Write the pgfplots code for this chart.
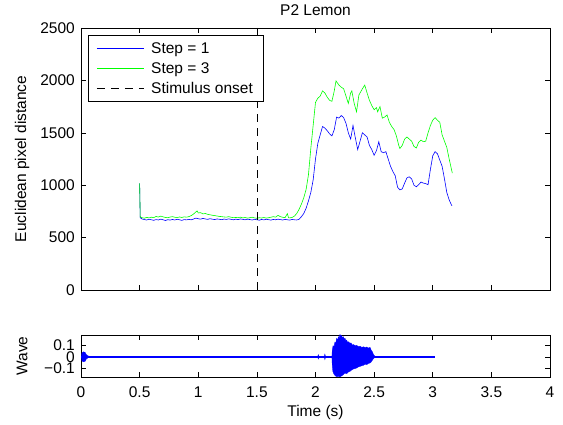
\documentclass[border=0pt]{standalone}
\usepackage{fontspec}
\setmainfont{Liberation Sans}
\usepackage{pgfplots}
\pgfplotsset{compat=1.18}
\pgfplotsset{mystyle/.style={
  scale only axis, width=469pt,
  axis line style={line width=0.6pt},
  tick align=inside, major tick length=5pt,
  tick style={black, line width=0.5pt},
  /pgf/number format/assume math mode=true,
  /pgf/number format/1000 sep={},
  scaled ticks=false,
  ticklabel style={font=\fontsize{15.5}{18}\selectfont},
  label style={font=\fontsize{15.5}{18}\selectfont},
  xmin=0, xmax=4, xtick={0,0.5,...,4},
  yticklabel style={inner sep=0pt, xshift=-6pt},
  ylabel style={at={(rel axis cs:-0.1258,0.5)}, anchor=center},
  clip mode=individual,
}}
\begin{document}
\begin{tikzpicture}[font=\fontsize{15.5}{18}\selectfont]
\useasboundingbox (0,0) rectangle (563pt,425pt);
\begin{axis}[mystyle,
  at={(81pt,135pt)}, anchor=south west, height=262pt,
  ymin=0, ymax=2500, ytick={0,500,...,2500},
  xticklabels={},
  ylabel={Euclidean pixel distance},
  legend style={at={(rel axis cs:0.0156,0.973)}, anchor=north west, draw=black, line width=0.6pt,
    fill=white, font=\fontsize{15.5}{18}\selectfont, cells={anchor=west}, row sep=3.5pt,
    inner xsep=8pt, inner ysep=5pt},
  legend image code/.code={\draw[#1] (0pt,0pt) -- (47pt,0pt); \path (52pt,0pt);},
]
\addplot[blue, line width=0.6pt] coordinates {
(0.500,1018) (0.505,690) (0.52,678) (0.54,672) (0.56,668) (0.58,675) (0.60,670) (0.62,665)
(0.64,672) (0.66,668) (0.68,676) (0.70,670) (0.72,663) (0.74,671) (0.76,667) (0.78,673)
(0.80,668) (0.82,675) (0.84,670) (0.86,664) (0.88,672) (0.90,669) (0.92,674) (0.94,670)
(0.96,677) (0.98,686) (1.00,680) (1.02,676) (1.04,683) (1.06,678) (1.08,674) (1.10,680)
(1.12,676) (1.14,672) (1.16,678) (1.18,675) (1.20,671) (1.22,677) (1.24,673) (1.26,679)
(1.28,674) (1.30,670) (1.32,676) (1.34,672) (1.36,678) (1.38,674) (1.40,670) (1.42,676)
(1.44,672) (1.46,668) (1.48,674) (1.50,670) (1.52,666) (1.54,673) (1.56,669) (1.58,675)
(1.60,671) (1.62,667) (1.64,673) (1.66,670) (1.68,676) (1.70,672) (1.72,668) (1.74,674)
(1.76,670) (1.78,667) (1.80,673) (1.82,670) (1.84,668) (1.86,675) (1.88,700) (1.90,730)
(1.92,780) (1.94,850) (1.96,930) (1.98,1050) (2.00,1250) (2.02,1400) (2.04,1480) (2.06,1560)
(2.08,1545) (2.10,1520) (2.12,1490) (2.14,1470) (2.16,1530) (2.18,1650) (2.20,1640) (2.22,1665)
(2.24,1645) (2.26,1590) (2.28,1500) (2.30,1440) (2.32,1570) (2.34,1450) (2.36,1340) (2.38,1420)
(2.40,1500) (2.42,1480) (2.44,1460) (2.46,1380) (2.48,1340) (2.50,1285) (2.52,1330) (2.54,1415)
(2.56,1320) (2.58,1310) (2.60,1320) (2.62,1250) (2.64,1180) (2.66,1130) (2.68,1090) (2.70,980)
(2.72,955) (2.74,965) (2.76,1020) (2.78,1070) (2.80,1080) (2.82,1060) (2.84,1000) (2.86,985)
(2.88,1005) (2.90,1030) (2.92,1020) (2.94,1015) (2.96,1005) (2.98,1150) (3.00,1280) (3.02,1320)
(3.04,1300) (3.06,1240) (3.08,1180) (3.10,1060) (3.12,930) (3.14,860) (3.16,810) (3.165,805)
};
\addlegendentry{Step = 1}
\addplot[green, line width=0.6pt] coordinates {
(0.500,1018) (0.505,700) (0.52,690) (0.54,685) (0.56,693) (0.58,688) (0.60,695) (0.62,690)
(0.64,702) (0.66,696) (0.68,705) (0.70,698) (0.72,692) (0.74,690) (0.76,696) (0.78,700)
(0.80,694) (0.82,690) (0.84,697) (0.86,692) (0.88,698) (0.90,695) (0.92,700) (0.94,710)
(0.96,725) (0.98,745) (0.99,755) (1.00,735) (1.02,738) (1.04,726) (1.06,730) (1.08,722)
(1.10,718) (1.12,713) (1.14,710) (1.16,706) (1.18,702) (1.20,700) (1.22,697) (1.24,695)
(1.26,700) (1.28,694) (1.30,690) (1.32,692) (1.34,690) (1.36,695) (1.38,688) (1.40,692)
(1.42,686) (1.44,690) (1.46,694) (1.48,688) (1.50,684) (1.52,690) (1.54,687) (1.56,692)
(1.58,686) (1.60,690) (1.62,694) (1.64,700) (1.66,695) (1.68,712) (1.70,700) (1.72,694)
(1.74,690) (1.76,728) (1.77,690) (1.78,688) (1.80,692) (1.82,705) (1.84,730) (1.86,770)
(1.88,820) (1.90,880) (1.92,960) (1.94,1100) (1.96,1350) (1.98,1570) (2.00,1790) (2.02,1830)
(2.04,1850) (2.06,1900) (2.08,1880) (2.10,1840) (2.12,1810) (2.14,1800) (2.16,1900) (2.175,1995)
(2.20,1955) (2.22,1935) (2.24,1920) (2.26,1850) (2.28,1780) (2.30,1880) (2.31,1900) (2.33,1780)
(2.35,1700) (2.37,1860) (2.40,1920) (2.42,1955) (2.44,1880) (2.46,1810) (2.48,1760) (2.50,1720)
(2.52,1740) (2.53,1700) (2.55,1750) (2.57,1640) (2.59,1650) (2.61,1670) (2.63,1600) (2.65,1560)
(2.67,1530) (2.69,1470) (2.71,1380) (2.72,1350) (2.74,1380) (2.76,1440) (2.78,1460) (2.80,1440)
(2.82,1420) (2.84,1370) (2.86,1355) (2.88,1410) (2.90,1430) (2.92,1415) (2.94,1420) (2.96,1500)
(2.98,1570) (3.00,1620) (3.02,1645) (3.04,1620) (3.06,1600) (3.08,1480) (3.10,1420) (3.12,1360)
(3.14,1250) (3.16,1150) (3.167,1115)
};
\addlegendentry{Step = 3}
\addplot[black, line width=0.6pt, dash pattern=on 8pt off 6pt] coordinates {(1.5,0) (1.5,2500)};
\addlegendentry{Stimulus onset}
\node[anchor=base, font=\fontsize{15.5}{18}\selectfont, inner sep=0pt] at (rel axis cs:0.5,1) [yshift=12pt] {P2 Lemon};
\end{axis}
\begin{axis}[mystyle,
  at={(81pt,48pt)}, anchor=south west, height=42pt,
  ymin=-0.18, ymax=0.195, ytick={-0.1,0,0.1}, yticklabels={−0.1,0,0.1},
  ylabel={Wave},
  xticklabel style={anchor=base, yshift=-21pt},
  xlabel={Time (s)},
  xlabel style={at={(0.5,0)}, anchor=base, yshift=-40pt},
]
\addplot[blue, line width=1.4pt] coordinates {(0,0) (3.02,0)};
\addplot[blue, fill=blue, line width=0.3pt] coordinates {
(0.003,0) (0.008,0.035) (0.02,0.045) (0.035,0.04) (0.045,0.02) (0.06,0.008) (0.08,0.004)
(0.08,-0.004) (0.06,-0.008) (0.045,-0.02) (0.035,-0.04) (0.02,-0.045) (0.008,-0.035)} -- cycle;
\addplot[blue, fill=blue, line width=0.3pt] coordinates {
(2.018,0) (2.024,0.02) (2.030,0) (2.024,-0.02)} -- cycle;
\addplot[blue, fill=blue, line width=0.3pt] coordinates {
(2.074,0) (2.080,0.025) (2.086,0) (2.080,-0.025)} -- cycle;
\addplot[blue, fill=blue, line width=0.3pt] coordinates {
(2.140,0) (2.143,0.06) (2.150,0.10) (2.158,0.09) (2.165,0.13) (2.172,0.12) (2.180,0.165)
(2.188,0.15) (2.195,0.18) (2.202,0.17) (2.209,0.2) (2.216,0.185) (2.223,0.19) (2.230,0.17)
(2.237,0.18) (2.245,0.16) (2.252,0.165) (2.259,0.145) (2.266,0.15) (2.273,0.13) (2.280,0.135)
(2.294,0.12) (2.302,0.125) (2.315,0.105) (2.325,0.11) (2.337,0.10) (2.35,0.103) (2.365,0.092)
(2.38,0.095) (2.395,0.085) (2.41,0.09) (2.425,0.082) (2.437,0.088) (2.45,0.078) (2.465,0.085)
(2.475,0.06) (2.485,0.045) (2.495,0.02) (2.507,0.005)
(2.507,-0.005) (2.495,-0.015) (2.485,-0.03) (2.475,-0.045) (2.465,-0.055) (2.45,-0.06)
(2.437,-0.07) (2.425,-0.065) (2.41,-0.075) (2.395,-0.08) (2.38,-0.085) (2.365,-0.09)
(2.35,-0.1) (2.337,-0.105) (2.32,-0.11) (2.305,-0.12) (2.294,-0.13) (2.28,-0.135)
(2.266,-0.15) (2.25,-0.145) (2.237,-0.16) (2.223,-0.17) (2.209,-0.18) (2.195,-0.175)
(2.18,-0.178) (2.165,-0.165) (2.155,-0.15) (2.148,-0.13) (2.143,-0.08)} -- cycle;
\end{axis}
\end{tikzpicture}
\end{document}
